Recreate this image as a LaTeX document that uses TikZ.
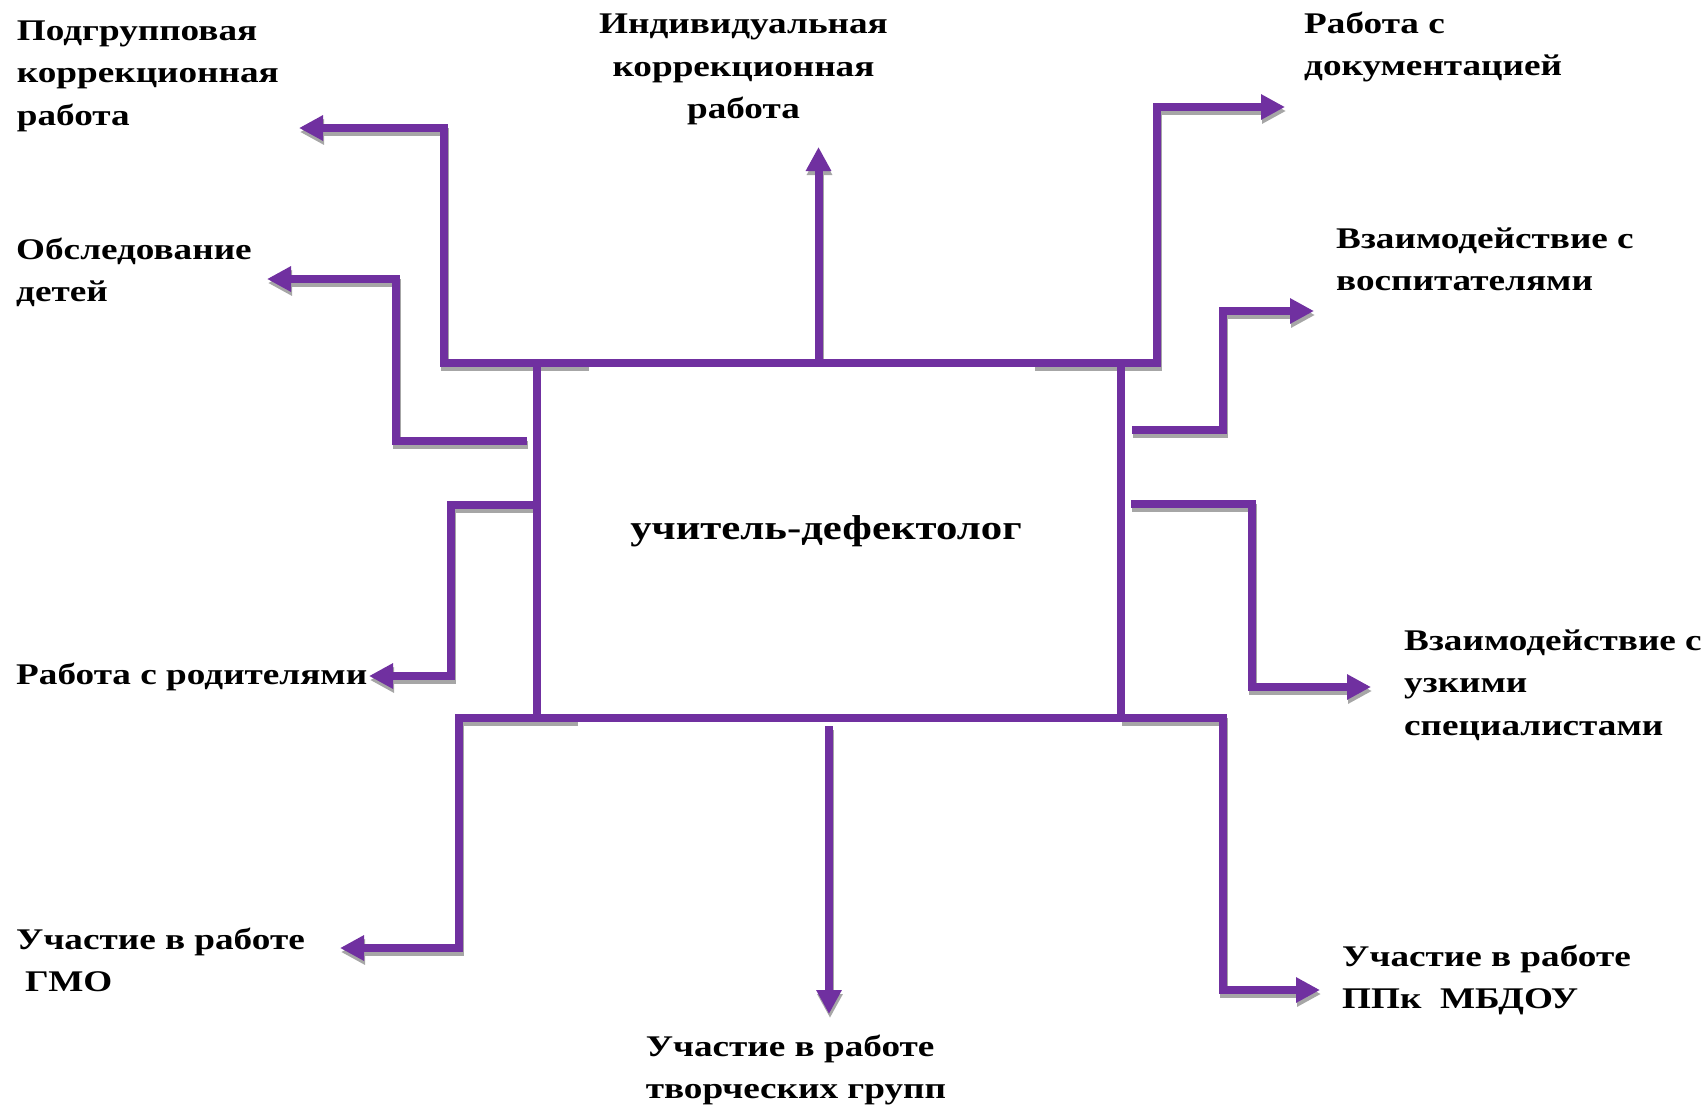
\documentclass[tikz,border=0pt]{standalone}
\usepackage{fontspec}
\setmainfont{Liberation Serif}[FakeStretch=1.24]
\usetikzlibrary{arrows.meta}
\definecolor{purp}{HTML}{7030A0}
\definecolor{shadowgray}{HTML}{A6A6A6}
\newcommand\lblfont{\bfseries\fontsize{30}{42.5}\selectfont}
\newcommand\centerfont{\bfseries\fontsize{34.5}{42.5}\selectfont}
\newcommand\topstrut{\rule{0pt}{26pt}}
\begin{document}
\begin{tikzpicture}[x=1pt,y=-1pt,
  conn/.style={draw=purp, line width=8pt, -{Triangle[length=24pt,width=24pt]}},
  connshadow/.style={draw=shadowgray, line width=8pt, -{Triangle[length=24pt,width=24pt]},
     transform canvas={xshift=1pt,yshift=-4pt}},
  boxstyle/.style={draw=purp, line width=8pt, rectangle, inner sep=0pt,
     minimum width=584pt, minimum height=355pt},
  lbl/.style={anchor=north west, inner sep=0pt, align=left, font=\lblfont},
  lblc/.style={anchor=north, inner sep=0pt, align=center, font=\lblfont}]
\useasboundingbox (0,0) rectangle (1707,1109);

% coordinates
\coordinate (pg0) at (588,363);  \coordinate (pg1) at (444,363);  \coordinate (pg2) at (444,128);  \coordinate (pg3) at (299,128);
\coordinate (ob0) at (527,441);  \coordinate (ob1) at (396,441);  \coordinate (ob2) at (396,279);  \coordinate (ob3) at (267,279);
\coordinate (ro0) at (533,505);  \coordinate (ro1) at (451,505);  \coordinate (ro2) at (451,676);  \coordinate (ro3) at (369,676);
\coordinate (gm0) at (577,718);  \coordinate (gm1) at (459,718);  \coordinate (gm2) at (459,948);  \coordinate (gm3) at (340,948);
\coordinate (tv0) at (829,726);  \coordinate (tv1) at (829,1014);
\coordinate (pp0) at (1121,718); \coordinate (pp1) at (1223,718); \coordinate (pp2) at (1223,990); \coordinate (pp3) at (1320,990);
\coordinate (uz0) at (1131,504); \coordinate (uz1) at (1252,504); \coordinate (uz2) at (1252,687); \coordinate (uz3) at (1371,687);
\coordinate (vo0) at (1132,430); \coordinate (vo1) at (1223,430); \coordinate (vo2) at (1223,311); \coordinate (vo3) at (1314,311);
\coordinate (dc0) at (1034,363); \coordinate (dc1) at (1157,363); \coordinate (dc2) at (1157,107); \coordinate (dc3) at (1285,107);
\coordinate (in0) at (818.5,363); \coordinate (in1) at (818.5,147);

% shadows
\draw[connshadow] (pg0) -- (pg1) -- (pg2) -- (pg3);
\draw[connshadow] (ob0) -- (ob1) -- (ob2) -- (ob3);
\draw[connshadow] (ro0) -- (ro1) -- (ro2) -- (ro3);
\draw[connshadow] (gm0) -- (gm1) -- (gm2) -- (gm3);
\draw[connshadow] (tv0) -- (tv1);
\draw[connshadow] (pp0) -- (pp1) -- (pp2) -- (pp3);
\draw[connshadow] (uz0) -- (uz1) -- (uz2) -- (uz3);
\draw[connshadow] (vo0) -- (vo1) -- (vo2) -- (vo3);
\draw[connshadow] (dc0) -- (dc1) -- (dc2) -- (dc3);
\draw[connshadow] (in0) -- (in1);

% central box
\node[boxstyle] (box) at (829,540.5) {};
\node[anchor=base, inner sep=0pt, font=\centerfont] (teacher) at (826,539) {учитель-дефектолог};

% connectors
\draw[conn] (pg0) -- (pg1) -- (pg2) -- (pg3);
\draw[conn] (ob0) -- (ob1) -- (ob2) -- (ob3);
\draw[conn] (ro0) -- (ro1) -- (ro2) -- (ro3);
\draw[conn] (gm0) -- (gm1) -- (gm2) -- (gm3);
\draw[conn] (tv0) -- (tv1);
\draw[conn] (pp0) -- (pp1) -- (pp2) -- (pp3);
\draw[conn] (uz0) -- (uz1) -- (uz2) -- (uz3);
\draw[conn] (vo0) -- (vo1) -- (vo2) -- (vo3);
\draw[conn] (dc0) -- (dc1) -- (dc2) -- (dc3);
\draw[conn] (in0) -- (in1);

% labels
\node[lbl] (tpg) at (16.7,14) {\topstrut Подгрупповая\\коррекционная\\работа};
\node[lbl] (tob) at (16,233) {\topstrut Обследование\\детей};
\node[lbl] (tro) at (16,658) {\topstrut Работа с родителями};
\node[lbl] (tgm) at (16,923) {\topstrut Участие в работе\\\hspace*{9pt}ГМО};
\node[lbl] (ttv) at (645.6,1030) {\topstrut Участие в работе\\творческих групп};
\node[lbl] (tpp) at (1342,940) {\topstrut Участие в работе\\ППк\ \ МБДОУ};
\node[lbl] (tuz) at (1404,624) {\topstrut Взаимодействие с\\узкими\\специалистами};
\node[lbl] (tvo) at (1336,222) {\topstrut Взаимодействие с\\воспитателями};
\node[lbl] (tdc) at (1304,7) {\topstrut Работа с\\документацией};
\node[lblc] (tin) at (743.5,7.3) {\topstrut Индивидуальная\\коррекционная\\работа};
\end{tikzpicture}
\end{document}
